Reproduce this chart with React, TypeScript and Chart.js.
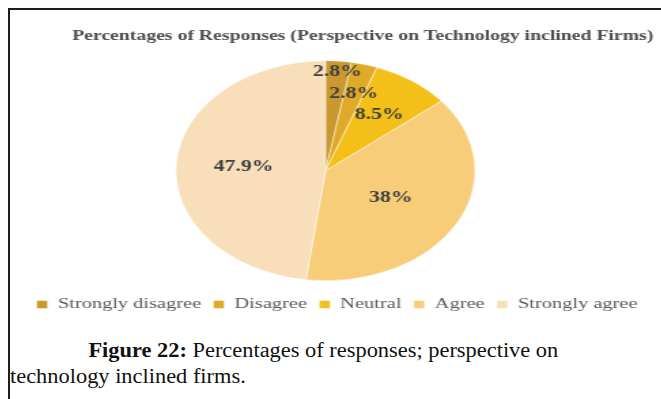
import { useEffect, useRef } from "react";
import { Chart, registerables, layouts } from "chart.js";

Chart.register(...registerables);

const categories = ["Strongly disagree", "Disagree", "Neutral", "Agree", "Strongly agree"];
const percentages = [2.8, 2.8, 8.5, 38, 47.9];
const sliceColors = ["#C9982F", "#DFAA27", "#F4BF19", "#F8CD7A", "#F8DFBA"];
const chartTitle = "Percentages of Responses (Perspective on Technology inclined Firms)";
const captionLabel = "Figure 22:";
const captionText = " Percentages of responses; perspective on technology inclined firms.";

// horizontal stretch applied to the chart canvas and to the caption
const STRETCH = 1.36;
const CAPTION_STRETCH = 1.12;
const CANVAS_W = 478;
const CANVAS_H = 312;
const SERIF = "'Liberation Serif', 'Times New Roman', serif";

// radial position of each value label, as a fraction of the outer radius
const labelRadius = [0.9, 0.72, 0.62, 0.5, 0.55];

// empty strip on the right of the plot area, nudging the pie leftwards
const rightGap = {
  id: "rightGap",
  beforeInit(chart: Chart) {
    const box: any = {
      position: "right",
      weight: 0,
      fullSize: false,
      options: {},
      width: 0,
      height: 0,
      left: 0,
      top: 0,
      right: 0,
      bottom: 0,
      isHorizontal() {
        return false;
      },
      update(_maxWidth: number, maxHeight: number) {
        this.width = 17;
        this.height = maxHeight;
      },
      draw() {},
    };
    layouts.addBox(chart, box);
  },
};

const sliceLabels = {
  id: "sliceLabels",
  afterDatasetsDraw(chart: Chart) {
    const { ctx } = chart;
    const meta = chart.getDatasetMeta(0);
    const values = chart.data.datasets[0].data as number[];
    ctx.save();
    ctx.font = `bold 16px ${SERIF}`;
    ctx.fillStyle = "#3f3f3f";
    ctx.textAlign = "center";
    ctx.textBaseline = "middle";
    meta.data.forEach((el: any, i: number) => {
      const { x, y, startAngle, endAngle, outerRadius } = el.getProps(
        ["x", "y", "startAngle", "endAngle", "outerRadius"],
        true
      );
      const mid = (startAngle + endAngle) / 2;
      const r = outerRadius * labelRadius[i];
      ctx.fillText(`${values[i]}%`, x + Math.cos(mid) * r, y + Math.sin(mid) * r);
    });
    ctx.restore();
  },
};

export default function App() {
  const canvasRef = useRef<HTMLCanvasElement | null>(null);

  useEffect(() => {
    if (!canvasRef.current) return;
    const chart = new Chart(canvasRef.current, {
      type: "pie",
      data: {
        labels: categories,
        datasets: [
          {
            data: percentages,
            backgroundColor: sliceColors,
            borderColor: "rgba(255,255,255,0.45)",
            borderWidth: 1,
            radius: 110,
          },
        ],
      },
      options: {
        responsive: false,
        animation: false,
        devicePixelRatio: 1,
        layout: { padding: { left: 8, right: 5, top: 0, bottom: 0 } },
        plugins: {
          title: {
            display: true,
            text: chartTitle,
            align: "end",
            color: "#4d4d4d",
            font: { family: SERIF, size: 14.5, weight: "bold" },
            padding: { top: 18, bottom: 8 },
          },
          legend: {
            position: "bottom",
            labels: {
              boxWidth: 8,
              boxHeight: 8,
              padding: 9,
              color: "#595959",
              font: { family: SERIF, size: 15 },
            },
          },
          tooltip: { enabled: false },
        },
      },
      plugins: [rightGap, sliceLabels],
    });
    return () => chart.destroy();
  }, []);

  return (
    <div
      style={{
        position: "absolute",
        left: 0,
        top: 0,
        width: 661,
        height: 399,
        overflow: "hidden",
        background: "#fff",
      }}
    >
      <div
        style={{
          position: "absolute",
          left: 8,
          top: 8,
          width: 660,
          height: 400,
          borderLeft: "2px solid #1e1e1e",
          borderTop: "2px solid #1e1e1e",
        }}
      />
      <div
        style={{
          position: "absolute",
          left: 10,
          top: 10,
          width: CANVAS_W,
          height: CANVAS_H,
          transform: `scaleX(${STRETCH})`,
          transformOrigin: "0 0",
        }}
      >
        <canvas ref={canvasRef} width={CANVAS_W} height={CANVAS_H} />
      </div>
      <div
        style={{
          position: "absolute",
          left: 10,
          top: 337,
          width: 500,
          fontFamily: SERIF,
          fontSize: 20,
          lineHeight: "26px",
          color: "#111",
          textIndent: 70,
          transform: `scaleX(${CAPTION_STRETCH})`,
          transformOrigin: "0 0",
        }}
      >
        <b>{captionLabel}</b>
        {captionText}
      </div>
    </div>
  );
}
